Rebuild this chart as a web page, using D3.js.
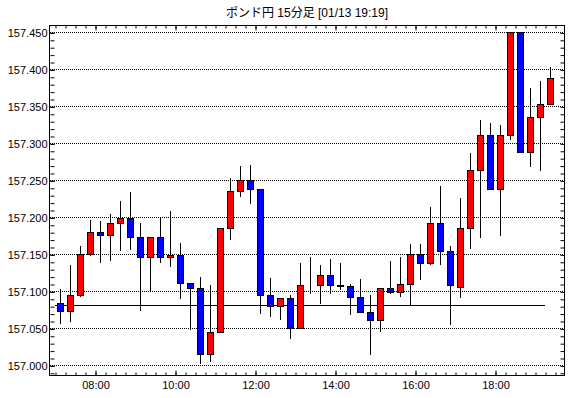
<!DOCTYPE html>
<html>
<head>
<meta charset="utf-8">
<script src="https://cdn.jsdelivr.net/npm/d3@7"></script>
<style>
  body { margin: 0; background: #fff; }
  svg { display: block; }
  text { font-family: 'Liberation Sans', 'Noto Sans CJK JP', sans-serif; }
</style>
</head>
<body>
<div class="canvas"></div>
<script>
// 15-minute candles, 01/13
const times = ['07:00','07:15','07:30','07:45','08:00','08:15','08:30','08:45','09:00','09:15',
  '09:30','09:45','10:00','10:15','10:30','10:45','11:00','11:15','11:30','11:45',
  '12:00','12:15','12:30','12:45','13:00','13:15','13:30','13:45','14:00','14:15',
  '14:30','14:45','15:00','15:15','15:30','15:45','16:00','16:15','16:30','16:45',
  '17:00','17:15','17:30','17:45','18:00','18:15','18:30','18:45','19:00','19:15'];

const opens = [157.084,157.074,157.095,157.151,157.180,157.176,157.192,157.199,157.173,157.146,
  157.173,157.146,157.149,157.112,157.105,157.016,157.045,157.186,157.236,157.250,
  157.239,157.095,157.080,157.091,157.050,157.108,157.108,157.122,157.109,157.107,
  157.093,157.072,157.062,157.104,157.099,157.110,157.150,157.138,157.192,157.154,
  157.106,157.185,157.264,157.312,157.239,157.312,157.451,157.288,157.336,157.353];

const highs = [157.103,157.136,157.161,157.196,157.195,157.204,157.222,157.234,157.192,157.173,
  157.200,157.209,157.165,157.112,157.119,157.109,157.186,157.253,157.269,157.271,
  157.239,157.118,157.091,157.095,157.138,157.146,157.136,157.144,157.138,157.110,
  157.117,157.095,157.105,157.141,157.146,157.164,157.164,157.214,157.242,157.162,
  157.226,157.287,157.331,157.328,157.325,157.451,157.451,157.375,157.384,157.403];

const lows = [157.056,157.058,157.092,157.148,157.138,157.141,157.154,157.156,157.074,157.100,
  157.139,157.133,157.090,157.048,157.002,157.004,157.045,157.170,157.228,157.218,
  157.070,157.065,157.062,157.036,157.050,157.097,157.083,157.097,157.102,157.068,
  157.072,157.014,157.045,157.096,157.093,157.081,157.116,157.135,157.135,157.055,
  157.091,157.157,157.172,157.239,157.175,157.305,157.288,157.268,157.263,157.353];

const closes = [157.074,157.095,157.151,157.180,157.176,157.192,157.199,157.173,157.146,157.173,
  157.146,157.149,157.112,157.105,157.016,157.045,157.186,157.236,157.250,157.239,
  157.095,157.080,157.091,157.050,157.108,157.108,157.122,157.109,157.107,157.093,
  157.072,157.062,157.104,157.099,157.110,157.150,157.138,157.192,157.154,157.108,
  157.185,157.264,157.312,157.239,157.312,157.451,157.288,157.336,157.353,157.389];

const refPrice = 157.082;
const yTicks = [157.000,157.050,157.100,157.150,157.200,157.250,157.300,157.350,157.400,157.450];
const xTicks = ['08:00','10:00','12:00','14:00','16:00','18:00'];
const title = 'ポンド円 15分足 [01/13 19:19]';

const dims = { width: 570, height: 398 };
const plot = { left: 50, right: 564, top: 25, bottom: 375 };
const step = 15; // minutes per candle

const toMin = s => { const [h, m] = s.split(':').map(Number); return h * 60 + m; };
const data = times.map((t, i) => ({
  t: toMin(t), open: opens[i], high: highs[i], low: lows[i], close: closes[i]
}));

const svg = d3.select('.canvas')
  .append('svg')
  .attr('width', dims.width)
  .attr('height', dims.height);

// 10px per candle, first candle edge 5px in from frame
const t0 = data[0].t - step / 2;
const x = d3.scaleLinear()
  .domain([t0, t0 + (plot.right - plot.left) * step / 10])
  .range([plot.left, plot.right]);

const y = d3.scaleLinear()
  .domain([156.987, 157.46])
  .range([plot.bottom, plot.top]);

const crisp = v => Math.round(v) + 0.5;

// gridlines
svg.append('g')
  .selectAll('line')
  .data(yTicks)
  .enter()
  .append('line')
    .attr('x1', plot.left)
    .attr('x2', plot.right)
    .attr('y1', d => crisp(y(d)))
    .attr('y2', d => crisp(y(d)))
    .attr('stroke', '#000')
    .attr('stroke-dasharray', '1,1');

// axes (ticks point inward)
const minorY = d3.range(0, 47).map(i => 156.99 + i * 0.01);
const minorX = d3.range(data[0].t, t0 + 514 * step / 10, step);
const majorX = xTicks.map(toMin);

const axes = [
  { ax: d3.axisLeft(y).tickValues(minorY).tickSize(-4).tickFormat(''), at: [plot.left, 0] },
  { ax: d3.axisRight(y).tickValues(minorY).tickSize(-4).tickFormat(''), at: [plot.right, 0] },
  { ax: d3.axisBottom(x).tickValues(minorX).tickSize(-3).tickFormat(''), at: [0, plot.bottom] },
  { ax: d3.axisTop(x).tickValues(minorX).tickSize(-3).tickFormat(''), at: [0, plot.top] },
  { ax: d3.axisTop(x).tickValues(majorX).tickSize(-5).tickFormat(''), at: [0, plot.top] },
  { ax: d3.axisBottom(x).tickValues(majorX).tickSize(-5).tickPadding(6)
      .tickFormat((d, i) => xTicks[i]), at: [0, plot.bottom] },
  { ax: d3.axisLeft(y).tickValues(yTicks).tickSize(-4).tickPadding(3)
      .tickFormat(d3.format('.3f')), at: [plot.left, 0] }
];

axes.forEach(a => {
  const g = svg.append('g')
    .attr('transform', `translate(${a.at[0] + 0.5}, ${a.at[1] + 0.5})`)
    .call(a.ax);
  g.select('.domain').remove();
  g.selectAll('text')
    .attr('fill', '#000')
    .style('font-size', '11px');
});

// previous close line
svg.append('line')
  .attr('x1', x(data[0].t))
  .attr('x2', x(data[data.length - 1].t))
  .attr('y1', crisp(y(refPrice)))
  .attr('y2', crisp(y(refPrice)))
  .attr('stroke', '#000');

// candles
const candles = svg.append('g')
  .selectAll('g')
  .data(data)
  .enter()
  .append('g');

const cx = d => Math.round(x(d.t + step / 2)) + 0.5;

candles.append('line')
  .attr('x1', cx)
  .attr('x2', cx)
  .attr('y1', d => Math.round(y(d.high)))
  .attr('y2', d => Math.round(y(d.low)))
  .attr('stroke', '#000');

candles.append('rect')
  .attr('x', d => cx(d) - 3)
  .attr('width', 6)
  .attr('y', d => crisp(y(Math.max(d.open, d.close))))
  .attr('height', d => Math.round(y(Math.min(d.open, d.close))) - Math.round(y(Math.max(d.open, d.close))))
  .attr('fill', d => d.close >= d.open ? '#ff0000' : '#0000ff')
  .attr('stroke', '#000');

// frame
svg.append('rect')
  .attr('x', plot.left - 0.5)
  .attr('y', plot.top + 0.5)
  .attr('width', plot.right - plot.left + 1)
  .attr('height', plot.bottom - plot.top)
  .attr('fill', 'none')
  .attr('stroke', '#000');

// title
svg.append('text')
  .attr('x', (plot.left + plot.right) / 2)
  .attr('y', 17)
  .attr('text-anchor', 'middle')
  .style('font-size', '12px')
  .text(title);
</script>
</body>
</html>
